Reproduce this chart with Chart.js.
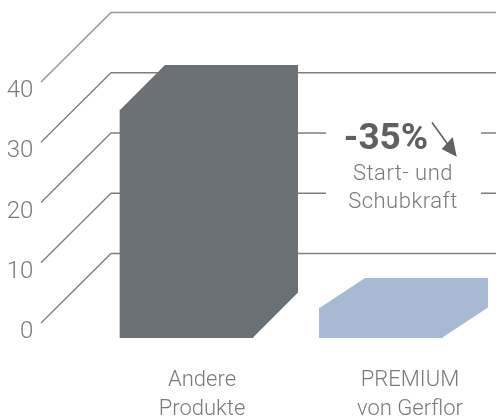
<!DOCTYPE html>
<html><head><meta charset="utf-8">
<style>html,body{margin:0;padding:0;background:#fff;overflow:hidden}canvas{display:block}</style>
<script src="https://cdn.jsdelivr.net/npm/chart.js@4"></script></head>
<body><canvas id="c" width="496" height="417"></canvas>
<script>
const categories = [['Andere','Produkte'],['PREMIUM','von Gerflor']];
const otherProducts = [36.85, null];
const premium = [null, 4.0];
const barBase = -0.93;
const yTicksMax = 40;
const calloutValue = '-35%';
const calloutText = ['Start- und','Schubkraft'];

const FONT = 'Roboto';
const hexPlugin = {
  id:'hex',
  afterLayout(chart){
    const s = chart.scales.x2;
    s.left = 98; s.right = 514; s.width = 416; s.configure();
  },
  beforeDatasetsDraw(chart){
    const {ctx, scales:{y}} = chart;
    ctx.save();
    y.ticks.forEach((t,i)=>{
      const p = y.getPixelForTick(i);
      ctx.lineWidth = t.value===yTicksMax ? 1.6 : 1.3;
      ctx.strokeStyle = t.value===yTicksMax ? '#9a9a9a' : '#7d7f7f';
      ctx.beginPath(); ctx.moveTo(41,p-9); ctx.lineTo(111,p-78.5); ctx.lineTo(496,p-78.5); ctx.stroke();
    });
    ctx.fillStyle='#fff'; ctx.fillRect(326,120,155,90);
    // arrow
    ctx.strokeStyle='#616262'; ctx.fillStyle='#616262'; ctx.lineWidth=1.6;
    ctx.beginPath(); ctx.moveTo(432,122.5); ctx.lineTo(449,146); ctx.stroke();
    ctx.beginPath(); ctx.moveTo(456.7,156.7); ctx.lineTo(441.7,149); ctx.lineTo(452.7,137); ctx.closePath(); ctx.fill();
    // callout text
    ctx.textAlign='center'; ctx.textBaseline='middle';
    ctx.fillStyle='#5f6060'; ctx.font='700 37px '+FONT;
    ctx.fillText(calloutValue,386,140);
    ctx.fillStyle='#797b7b'; ctx.font='300 22px '+FONT;
    ctx.letterSpacing='0.5px';
    ctx.fillText(calloutText[0],403,174);
    ctx.fillText(calloutText[1],403,202);
    ctx.letterSpacing='0px';
    // oblique bar faces
    chart.data.datasets.forEach((d,di)=>{
      chart.getDatasetMeta(di).data.forEach((el,i)=>{
        if(d.data[i]===null)return;
        const l=el.x-el.width/2,r=el.x+el.width/2;
        ctx.fillStyle=d.backgroundColor;
        ctx.beginPath();
        ctx.moveTo(l,el.y);ctx.lineTo(l+d.depthX,el.y-d.depthY);ctx.lineTo(r+d.depthX,el.y-d.depthY);
        ctx.lineTo(r+d.depthX,el.base-d.depthY);ctx.lineTo(r,el.base);ctx.lineTo(l,el.base);ctx.closePath();ctx.fill();
      });
    });
    ctx.restore();
  }
};

new Chart(document.getElementById('c'),{
  type:'bar',
  data:{labels:categories,datasets:[
    {data:otherProducts,backgroundColor:'#6a7073',barThickness:133,grouped:false,base:barBase,clip:false,depthX:45,depthY:45,xAxisID:'x',borderWidth:0},
    {data:premium,backgroundColor:'#a7bad3',barThickness:123,grouped:false,base:barBase,clip:false,depthX:45.5,depthY:30,xAxisID:'x',borderWidth:0}
  ]},
  options:{
    responsive:false,animation:false,
    layout:{padding:{left:0,right:17.75,top:91,bottom:0}},
    plugins:{legend:{display:false},tooltip:{enabled:false}},
    scales:{
      x:{display:false,offset:true,grid:{display:false}},
      x2:{type:'category',position:'bottom',offset:true,grid:{display:false,drawTicks:false},border:{display:false},
        afterFit(s){s.height=85;},
        ticks:{autoSkip:false,maxRotation:0,minRotation:0,padding:34,color:'#797b7b',font:{family:FONT,weight:'300',size:22,lineHeight:1.32}}},
      y:{min:0,max:yTicksMax,grid:{display:false,drawTicks:false},border:{display:false},
        afterFit(s){s.width=89.25;},
        ticks:{stepSize:10,padding:56,color:'#797b7b',font:{family:FONT,weight:'300',size:24}}}
    }
  },
  plugins:[hexPlugin]
});
</script></body></html>
